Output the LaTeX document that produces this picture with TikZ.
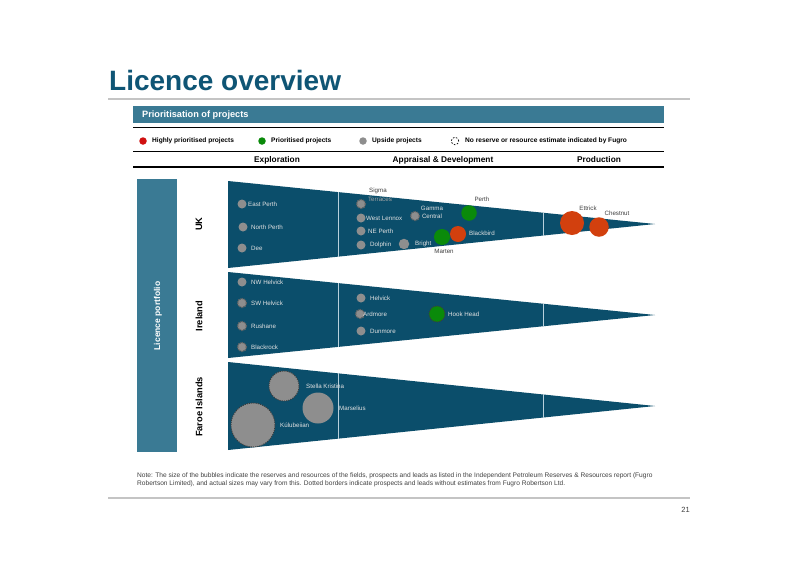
\documentclass[tikz,border=0pt]{standalone}
\usepackage{fontspec}
\setmainfont{Liberation Sans}
\usetikzlibrary{calc}
\definecolor{titleblue}{HTML}{0F5575}
\definecolor{barblue}{HTML}{3A7A94}
\definecolor{triblue}{HTML}{0B4E6B}
\definecolor{bubgray}{HTML}{8E8E8E}
\definecolor{dotgray}{HTML}{3C3C3C}
\definecolor{bubred}{HTML}{D2400E}
\definecolor{legred}{HTML}{D01010}
\definecolor{bubgreen}{HTML}{0A8A0A}
\definecolor{intxt}{HTML}{E2E2E2}
\definecolor{outtxt}{HTML}{404040}
\definecolor{rulegray}{HTML}{C4C4C4}
\definecolor{sepline}{HTML}{B8D0DC}
\tikzset{
  bub/.style={circle, inner sep=0pt, minimum size=#1, fill=bubgray},
  bub/.default=9pt,
  red bub/.style={circle, inner sep=0pt, minimum size=#1, fill=bubred},
  green bub/.style={circle, inner sep=0pt, minimum size=#1, fill=bubgreen},
  nores/.style={draw=bubgray!70!black, line width=1.3pt, dash pattern=on 1pt off 1pt},
  bigdot/.style={draw=dotgray, line width=0.9pt, dash pattern=on 1.1pt off 1.1pt},
  lbl/.style={font=\fontsize{6.2}{7}\selectfont, text=intxt, inner sep=0pt},
  olbl/.style={font=\fontsize{6.2}{7}\selectfont, text=outtxt, inner sep=0pt},
  legtxt/.style={font=\bfseries\fontsize{6.6}{8}\selectfont, anchor=west, inner sep=0pt},
  colhead/.style={font=\bfseries\fontsize{8.3}{10}\selectfont, inner sep=0pt},
  rowlbl/.style={font=\bfseries\fontsize{9.3}{11}\selectfont, rotate=90, inner sep=0pt},
  tri/.style={fill=triblue},
  sepstyle/.style={draw=sepline, line width=0.9pt},
  blackrule/.style={draw=black, line width=#1},
  greyrule/.style={draw=rulegray, line width=#1},
  notetxt/.style={font=\fontsize{6.6}{8}\selectfont, text=outtxt, anchor=west, inner sep=0pt}
}
\begin{document}
\begin{tikzpicture}[x=1pt,y=-1pt]
\useasboundingbox[fill=white] (0,0) rectangle (800,565);

% title
\node[anchor=base west, inner sep=0pt, font=\bfseries\fontsize{28}{32}\selectfont, text=titleblue] (title) at (109,90) {Licence overview};
\coordinate (r1a) at (108,99); \coordinate (r1b) at (690,99);
\draw[greyrule=1.5pt] (r1a) -- (r1b);

% header bar
\node[fill=barblue, minimum width=531pt, minimum height=17pt, inner sep=0pt, anchor=north west] (hbar) at (133,106) {};
\node[anchor=west, inner sep=0pt, text=white, font=\bfseries\fontsize{9.2}{11}\selectfont] (htxt) at (142,115) {Prioritisation of projects};

\coordinate (l1a) at (133,127.5); \coordinate (l1b) at (664,127.5);
\coordinate (l2a) at (133,151.5); \coordinate (l2b) at (664,151.5);
\coordinate (l3a) at (133,167); \coordinate (l3b) at (664,167);
\draw[blackrule=1.6pt] (l1a) -- (l1b);
\draw[blackrule=1.3pt] (l2a) -- (l2b);
\draw[blackrule=1.6pt] (l3a) -- (l3b);

% legend
\node[circle, inner sep=0pt, minimum size=7.5pt, fill=legred] (legR) at (143,141) {};
\node[legtxt] (legRt) at (152,141) {Highly prioritised projects};
\node[circle, inner sep=0pt, minimum size=7.5pt, fill=bubgreen] (legG) at (262,141) {};
\node[legtxt] (legGt) at (271,141) {Prioritised projects};
\node[circle, inner sep=0pt, minimum size=7.5pt, fill=bubgray] (legY) at (363,141) {};
\node[legtxt] (legYt) at (372,141) {Upside projects};
\node[circle, inner sep=0pt, minimum size=7.5pt, draw=black, line width=0.7pt, dash pattern=on 1.6pt off 1.6pt] (legD) at (455,141) {};
\node[legtxt] (legDt) at (465,141) {No reserve or resource estimate indicated by Fugro};

% column heads
\node[colhead] (ch1) at (277,160) {Exploration};
\node[colhead] (ch2) at (443,160) {Appraisal \& Development};
\node[colhead] (ch3) at (599,160) {Production};

% left bar
\node[fill=barblue, minimum width=40pt, minimum height=273pt, inner sep=0pt, anchor=north west] (lbar) at (137,179) {};
\node[rotate=90, text=white, inner sep=0pt, font=\bfseries\fontsize{8.5}{10}\selectfont] (lbartxt) at (158,316) {Licence portfolio};

\node[rowlbl] (rUK) at (199,224) {UK};
\node[rowlbl] (rIE) at (199,316) {Ireland};
\node[rowlbl] (rFO) at (199,407) {Faroe Islands};

% triangles
\coordinate (ukTL) at (228,181); \coordinate (ukBL) at (228,268); \coordinate (ukTip) at (655,224);
\coordinate (ieTL) at (228,272); \coordinate (ieBL) at (228,358); \coordinate (ieTip) at (655,315);
\coordinate (foTL) at (228,362); \coordinate (foBL) at (228,450); \coordinate (foTip) at (655,406);
\fill[tri] (ukTL) -- (ukBL) -- (ukTip) -- cycle;
\fill[tri] (ieTL) -- (ieBL) -- (ieTip) -- cycle;
\fill[tri] (foTL) -- (foBL) -- (foTip) -- cycle;
\foreach \t in {0.2576,0.7377}{
  \foreach \r in {uk,ie,fo}{
    \draw[sepstyle] ($(\r TL)!\t!(\r Tip)$) -- ($(\r BL)!\t!(\r Tip)$);
  }
}

% UK bubbles
\node[bub] (eastperth) at (242,204) {};
\node[lbl, anchor=west] (eastpertht) at (248,204) {East Perth};
\node[bub] (northperth) at (243,227) {};
\node[lbl, anchor=west] (northpertht) at (251,227) {North Perth};
\node[bub] (dee) at (242,248) {};
\node[lbl, anchor=west] (deet) at (251,248) {Dee};

\node[bub, nores] (sigma) at (361,204) {};
\node[olbl, text=outtxt] (sigmat) at (378,191) {Sigma};
\node[lbl, text=gray!70] (sigmat2) at (380,199) {Terraces};
\node[bub] (westlennox) at (361,218) {};
\node[lbl, anchor=west] (westlennoxt) at (366,218) {West Lennox};
\node[bub] (neperth) at (361,231) {};
\node[lbl, anchor=west] (nepertht) at (368,231) {NE Perth};
\node[bub] (dolphin) at (361,245) {};
\node[lbl, anchor=west] (dolphint) at (370,245) {Dolphin};
\node[bub=10.5pt] (bright) at (404,244) {};
\node[lbl, anchor=west] (brightt) at (415,244) {Bright};
\node[bub, nores] (gamma) at (415,216) {};
\node[lbl] (gammat) at (432,208) {Gamma};
\node[lbl] (gammat2) at (432,216) {Central};

\node[green bub=15.5pt] (perth) at (469,213) {};
\node[olbl] (pertht) at (482,199) {Perth};
\node[green bub=16pt] (marten) at (442,237) {};
\node[olbl] (martent) at (444,251) {Marten};
\node[red bub=16pt] (blackbird) at (458,234) {};
\node[lbl, anchor=west] (blackbirdt) at (469,233) {Blackbird};
\node[red bub=24pt] (ettrick) at (572,223) {};
\node[olbl] (ettrickt) at (588,208) {Ettrick};
\node[red bub=19.5pt] (chestnut) at (599,227) {};
\node[olbl] (chestnutt) at (617,213) {Chestnut};

% Ireland bubbles
\node[bub] (nwhelvick) at (242,282) {};
\node[lbl, anchor=west] (nwhelvickt) at (251,282) {NW Helvick};
\node[bub, nores] (swhelvick) at (242,303) {};
\node[lbl, anchor=west] (swhelvickt) at (251,303) {SW Helvick};
\node[bub, nores] (rushane) at (242,326) {};
\node[lbl, anchor=west] (rushanet) at (251,326) {Rushane};
\node[bub, nores] (blackrock) at (242,347) {};
\node[lbl, anchor=west] (blackrockt) at (251,347) {Blackrock};
\node[bub] (helvick) at (361,298) {};
\node[lbl, anchor=west] (helvickt) at (370,298) {Helvick};
\node[bub, nores] (ardmore) at (360,314) {};
\node[lbl, anchor=west] (ardmoret) at (363,314) {Ardmore};
\node[bub] (dunmore) at (361,331) {};
\node[lbl, anchor=west] (dunmoret) at (370,331) {Dunmore};
\node[green bub=16pt, bigdot] (hookhead) at (437,314) {};
\node[lbl, anchor=west] (hookheadt) at (448,314) {Hook Head};

% Faroe bubbles
\node[bub=30pt, bigdot] (stella) at (284,386) {};
\node[lbl, anchor=west] (stellat) at (306,386) {Stella Kristina};
\node[bub=31pt] (marselius) at (318,408) {};
\node[lbl, anchor=west] (marseliust) at (339,408) {Marselius};
\node[bub=44pt, bigdot] (kulu) at (253,425) {};
\node[lbl, anchor=west] (kulut) at (280,425) {Kúlubeiian};

% note
\node[notetxt] (note1) at (137,475.5) {Note: The size of the bubbles indicate the reserves and resources of the fields, prospects and leads as listed in the Independent Petroleum Reserves \& Resources report (Fugro};
\node[notetxt] (note2) at (137,484) {Robertson Limited), and actual sizes may vary from this. Dotted borders indicate prospects and leads without estimates from Fugro Robertson Ltd.};
\coordinate (r2a) at (108,497.5); \coordinate (r2b) at (690,497.5);
\draw[greyrule=2pt] (r2a) -- (r2b);
\node[anchor=east, inner sep=0pt, text=outtxt, font=\fontsize{7.5}{9}\selectfont] (pagenum) at (690,510) {21};
\end{tikzpicture}
\end{document}
